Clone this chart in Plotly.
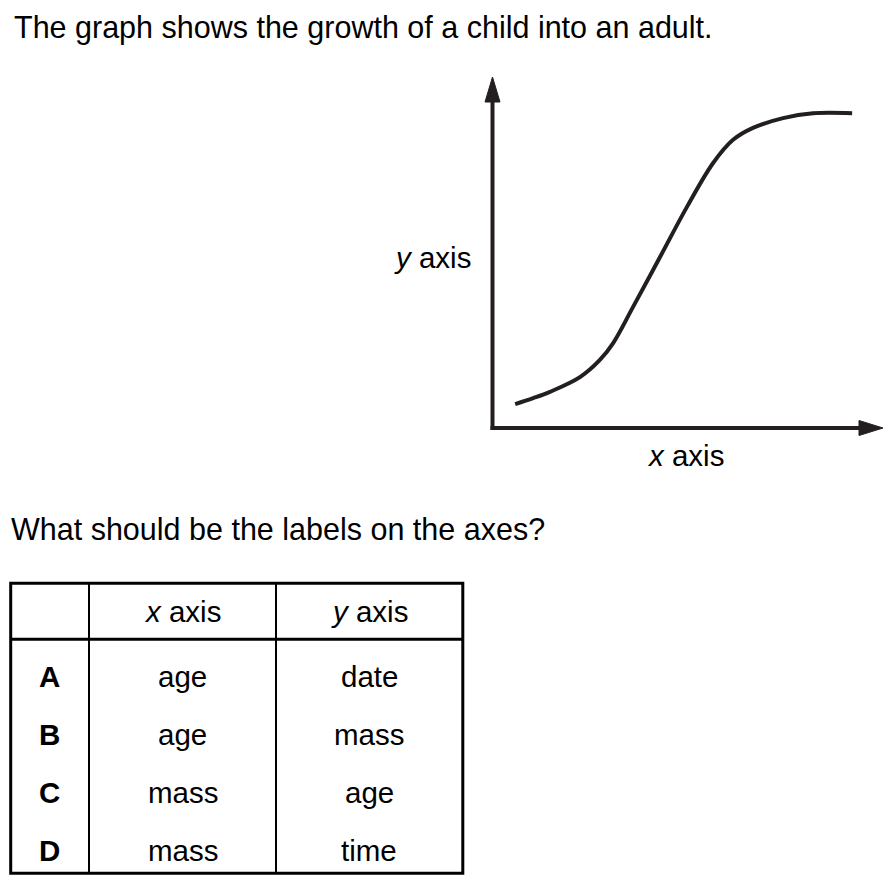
import plotly.graph_objects as go

W, H = 890, 891

# ---- text content ----
title_text = "The graph shows the growth of a child into an adult."
question_text = "What should be the labels on the axes?"
x_axis_label = "<i>x</i> axis"
y_axis_label = "<i>y</i> axis"

# ---- growth curve (arbitrary units) ----
curve_x = [0.58, 1.04, 1.47, 2.24, 2.75, 3.09, 3.60, 4.29, 4.98, 5.65, 6.16, 6.67, 7.44, 8.21, 9.21]
curve_y = [0.68, 0.85, 1.03, 1.45, 1.94, 2.42, 3.45, 4.87, 6.30, 7.55, 8.21, 8.55, 8.83, 8.97, 8.97]

# ---- answer table ----
header = ["", "<i>x</i> axis", "<i>y</i> axis"]
row_letters = ["A", "B", "C", "D"]
x_options = ["age", "age", "mass", "mass"]
y_options = ["date", "mass", "age", "time"]


def px(x):
    return x / W


def py(y):
    return 1 - y / H


INK = "#231f20"
TXT = "#000000"
FONT = "Liberation Sans, Arial, Helvetica, sans-serif"
BIG = 30.5
MID = 29.5

fig = go.Figure()
fig.add_trace(go.Scatter(
    x=curve_x, y=curve_y, mode="lines",
    line=dict(color=INK, width=4, shape="spline", smoothing=1.0),
    hoverinfo="skip", showlegend=False,
))

shapes = []
# graph axes with arrowheads
shapes.append(dict(type="line", xref="paper", yref="paper",
                   x0=px(490.5), y0=py(428), x1=px(862), y1=py(428),
                   line=dict(color=INK, width=4)))
shapes.append(dict(type="path", xref="paper", yref="paper",
                   path=f"M {px(859)} {py(420.5)} L {px(883)} {py(428)} L {px(859)} {py(435.5)} Z",
                   fillcolor=INK, line=dict(color=INK, width=1)))
shapes.append(dict(type="line", xref="paper", yref="paper",
                   x0=px(492.5), y0=py(430), x1=px(492.5), y1=py(99),
                   line=dict(color=INK, width=4)))
shapes.append(dict(type="path", xref="paper", yref="paper",
                   path=f"M {px(485)} {py(102)} L {px(492.5)} {py(77)} L {px(500)} {py(102)} Z",
                   fillcolor=INK, line=dict(color=INK, width=1)))

# table grid
tl, tr, tt, tb = 10.7, 462.8, 583.3, 873.3
col_lines = [89, 276]
header_line = 639.2
shapes.append(dict(type="rect", xref="paper", yref="paper",
                   x0=px(tl), y0=py(tb), x1=px(tr), y1=py(tt),
                   line=dict(color=TXT, width=3)))
for cx in col_lines:
    shapes.append(dict(type="line", xref="paper", yref="paper",
                       x0=px(cx), y0=py(tt), x1=px(cx), y1=py(tb),
                       line=dict(color=TXT, width=2)))
shapes.append(dict(type="line", xref="paper", yref="paper",
                   x0=px(tl), y0=py(header_line), x1=px(tr), y1=py(header_line),
                   line=dict(color=TXT, width=3)))

annotations = []


def add_text(text, x, baseline, size, xanchor="center", bold=False):
    yc = baseline - 0.3465 * size
    annotations.append(dict(
        text=f"<b>{text}</b>" if bold else text,
        x=px(x), y=py(yc), xref="paper", yref="paper",
        xanchor=xanchor, yanchor="middle", showarrow=False,
        font=dict(family=FONT, size=size, color=TXT),
    ))


add_text(title_text, 12, 37.7, BIG, xanchor="left")
add_text(question_text, 9, 540, BIG, xanchor="left")
add_text(y_axis_label, 473, 268, MID, xanchor="right")
add_text(x_axis_label, 685.5, 466, MID)

col_centers = [(tl + col_lines[0]) / 2, (col_lines[0] + col_lines[1]) / 2, (col_lines[1] + tr) / 2]
for j, h in enumerate(header):
    if h:
        add_text(h, col_centers[j], 622, MID)
row_baselines = [687, 745, 803, 861]
for i in range(len(row_letters)):
    add_text(row_letters[i], col_centers[0], row_baselines[i], MID, bold=True)
    add_text(x_options[i], col_centers[1], row_baselines[i], MID)
    add_text(y_options[i], col_centers[2], row_baselines[i], MID)

fig.update_layout(
    width=W, height=H,
    margin=dict(l=0, r=0, t=0, b=0),
    paper_bgcolor="white", plot_bgcolor="rgba(0,0,0,0)",
    showlegend=False,
    xaxis=dict(domain=[px(492.5), px(883)], range=[0, 10], visible=False, fixedrange=True),
    yaxis=dict(domain=[py(428), py(77)], range=[0, 10], visible=False, fixedrange=True),
    shapes=shapes, annotations=annotations,
)

fig.write_html(
    "out.html",
    config={"displayModeBar": False},
    post_script="document.body.style.margin='0';document.body.style.padding='0';",
)
